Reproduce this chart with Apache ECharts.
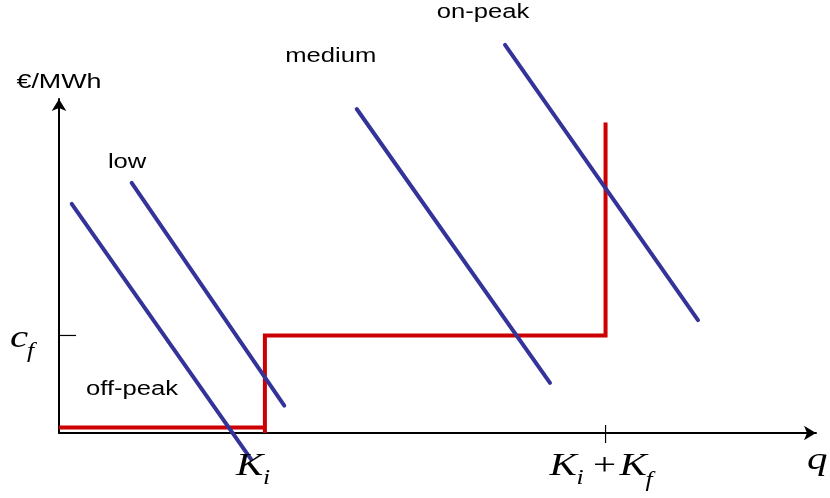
<!DOCTYPE html>
<html>
<head>
<meta charset="utf-8">
<script src="https://cdn.jsdelivr.net/npm/echarts@6/dist/echarts.min.js"></script>
<style>
  html, body { margin: 0; padding: 0; background: #fff; }
  #chart { width: 830px; height: 498px; }
</style>
</head>
<body>
<div id="chart"></div>
<script>
// Capacity levels on the quantity axis
const kI = 27.2;          // K_i
const kIplusF = 72.2;     // K_i + K_f
const cF = 29.2;          // fixed cost level c_f

// Supply step (red): [q, price]
const supplyStep = [[0, 1.65], [kI, 1.65], [kI, 0], [kI, cF], [kIplusF, cF], [kIplusF, 93.0]];

// Demand curves (blue), one straight segment per period
const periodNames = ['off-peak', 'low', 'medium', 'on-peak'];
const demandStart = [[1.68, 68.6], [9.60, 74.9], [39.33, 97.0], [58.92, 116.2]];
const demandEnd   = [[25.36, -7.8], [29.76, 8.2], [64.86, 15.0], [84.41, 33.8]];
// Where each period name sits
const periodLabelAt = [[9.65, 12.9], [9.0, 81.0], [35.9, 112.6], [56.0, 126.0]];

// Axis tick marks
const qTick = [[kIplusF, 2.4], [kIplusF, -3.0]];
const cTick = [[0, cF], [2.25, cF]];

const blue = '#333399';
const red = '#cc0000';
const STRETCH = 1.28;

const chart = echarts.init(document.getElementById('chart'));

const series = [
  {
    type: 'line', data: supplyStep, symbol: 'none', clip: false, z: 3,
    lineStyle: { color: red, width: 4, cap: 'butt', join: 'miter' }
  }
];
periodNames.forEach((name, i) => {
  series.push({
    type: 'line', name: name, data: [demandStart[i], demandEnd[i]],
    symbol: 'none', clip: false, z: 4,
    lineStyle: { color: blue, width: 4, cap: 'round' }
  });
});
[qTick, cTick].forEach(t => {
  series.push({
    type: 'line', data: t, symbol: 'none', clip: false, z: 2,
    lineStyle: { color: '#000', width: 1.2 }
  });
});

const axisCommon = {
  type: 'value', min: 0, max: 100,
  axisLine: {
    show: true, onZero: false,
    symbol: ['none', 'arrow'], symbolSize: [11, 12],
    lineStyle: { color: '#000', width: 2 }
  },
  axisTick: { show: false },
  axisLabel: { show: false },
  splitLine: { show: false }
};

chart.setOption({
  animation: false,
  backgroundColor: '#fff',
  grid: { left: 59, right: 14, top: 99, bottom: 65 },
  xAxis: axisCommon,
  yAxis: axisCommon,
  series: series
});

// Text placed relative to data positions
function toPx(p) { return chart.convertToPixel({ gridIndex: 0 }, p); }

function txt(x, y, text, font, align) {
  return {
    type: 'text', x: x, y: y, scaleX: STRETCH, z: 10,
    style: {
      text: text, font: font, fill: '#000',
      align: align, verticalAlign: 'middle',
      textAlign: align, textVerticalAlign: 'middle'
    }
  };
}

const sans = '20px "Liberation Sans", Arial, sans-serif';
const serifIt = (s) => 'italic ' + s + 'px "Liberation Serif", "Times New Roman", serif';
const serif = (s) => s + 'px "Liberation Serif", "Times New Roman", serif';

const graphics = [];
periodNames.forEach((name, i) => {
  const p = toPx(periodLabelAt[i]);
  graphics.push(txt(p[0], p[1], name, sans, 'center'));
});

// y-axis unit
const yTop = toPx([0, 100]);
graphics.push(txt(yTop[0], yTop[1] - 17, '€/MWh', '21px "Liberation Sans", Arial, sans-serif', 'center'));

// c_f
const cPx = toPx([0, cF]);
graphics.push(txt(cPx[0] - 49, cPx[1] + 3, 'c', serifIt(32), 'left'));
graphics.push(txt(cPx[0] - 32, cPx[1] + 16, 'f', serifIt(20), 'left'));

// K_i
const k1 = toPx([kI, 0]);
graphics.push(txt(k1[0] - 29, k1[1] + 34, 'K', serifIt(32), 'left'));
graphics.push(txt(k1[0] - 2, k1[1] + 46, 'i', serifIt(20), 'left'));

// K_i + K_f
const k2 = toPx([kIplusF, 0]);
graphics.push(txt(k2[0] - 56, k2[1] + 34, 'K', serifIt(32), 'left'));
graphics.push(txt(k2[0] - 29, k2[1] + 46, 'i', serifIt(20), 'left'));
graphics.push(txt(k2[0] - 1, k2[1] + 34, '+', serif(32), 'center'));
graphics.push(txt(k2[0] + 14, k2[1] + 34, 'K', serifIt(32), 'left'));
graphics.push(txt(k2[0] + 40, k2[1] + 48, 'f', serifIt(20), 'left'));

// q
const qEnd = toPx([100, 0]);
graphics.push(txt(qEnd[0] - 9, qEnd[1] + 28, 'q', serifIt(32), 'left'));

chart.setOption({ graphic: graphics });
</script>
</body>
</html>
